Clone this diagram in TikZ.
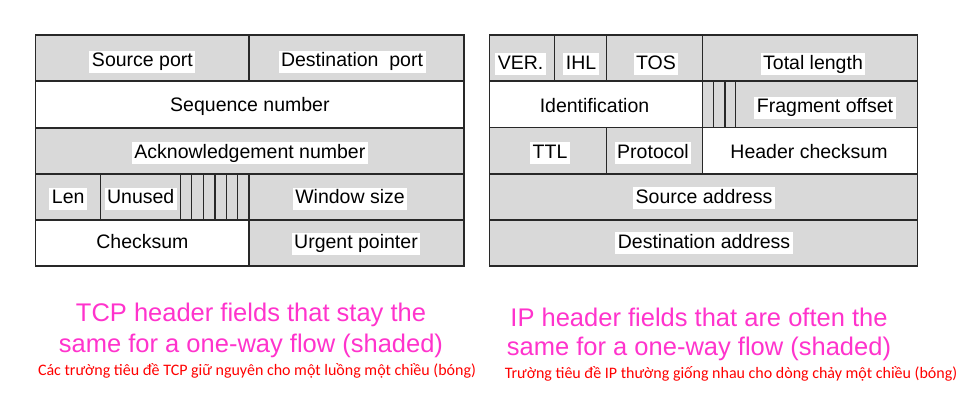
\documentclass[tikz,border=0pt]{standalone}
\usepackage{fontspec}
\setmainfont{Liberation Sans}
\newfontfamily\redfont{Carlito}
\definecolor{cellgray}{RGB}{217,217,217}
\definecolor{linegray}{RGB}{40,40,40}
\definecolor{pinkish}{RGB}{255,51,204}
\definecolor{redtext}{RGB}{255,0,0}
\tikzset{
  gcell/.style={fill=cellgray, draw=linegray, line width=1.1pt},
  wcell/.style={fill=white, draw=linegray, line width=1.1pt},
  flagline/.style={draw=linegray, line width=1.1pt},
  lbl/.style={fill=white, inner xsep=2.5pt, inner ysep=1.5pt, text height=14.5pt, text depth=4.5pt,
    font=\fontsize{19.5}{22}\selectfont},
  caption/.style={text=pinkish, anchor=base, inner sep=0pt, font=\fontsize{25.5}{30}\selectfont},
  subcap/.style={text=redtext, anchor=base, inner sep=0pt, font=\redfont\fontsize{16}{18}\selectfont}
}
\begin{document}
\begin{tikzpicture}[x=1pt,y=-1pt]
\useasboundingbox (0,0) rectangle (957,417);
% ---------------- TCP header ----------------
\path[gcell] (35.7,35) rectangle (249,81);
\path[gcell] (249,35) rectangle (464,81);
\path[wcell] (35.7,81) rectangle (464,128);
\path[gcell] (35.7,128) rectangle (464,174);
\path[gcell] (35.7,174) rectangle (100.7,220);
\path[gcell] (100.7,174) rectangle (180.7,220);
\path[gcell] (180.7,174) rectangle (249,220);
\foreach \x in {191.7,203.3,215,226.5,237.7} \draw[flagline] (\x,174) -- (\x,220);
\path[gcell] (249,174) rectangle (464,220);
\path[wcell] (35.7,220) rectangle (249,266);
\path[gcell] (249,220) rectangle (464,266);

\node[lbl] (srcport) at (142.4,62) {Source port};
\node[lbl] (dstport) at (352,62) {Destination\ \ port};
\node[lbl] (seqnum) at (249.9,106.7) {Sequence number};
\node[lbl] (acknum) at (249.9,153.3) {Acknowledgement number};
\node[lbl] (len) at (68.2,198.5) {Len};
\node[lbl] (unused) at (140.7,198.5) {Unused};
\node[lbl] (winsize) at (350,198.5) {Window size};
\node[lbl] (checksum) at (142.4,243.5) {Checksum};
\node[lbl] (urgptr) at (356,243.5) {Urgent pointer};

% ---------------- IP header ----------------
\path[gcell] (489.3,35) rectangle (554.3,81);
\path[gcell] (554.3,35) rectangle (606.7,81);
\path[gcell] (606.7,35) rectangle (702.7,81);
\path[gcell] (702.7,35) rectangle (917.7,81);
\path[wcell] (489.3,81) rectangle (702.7,127.3);
\path[gcell] (702.7,81) rectangle (735.7,127.3);
\foreach \x in {713.7,725} \draw[flagline] (\x,81) -- (\x,127.3);
\path[gcell] (735.7,81) rectangle (917.7,127.3);
\path[gcell] (489.3,127.3) rectangle (606.7,174);
\path[gcell] (606.7,127.3) rectangle (702.7,174);
\path[wcell] (702.7,127.3) rectangle (917.7,174);
\path[gcell] (489.3,174) rectangle (917.7,220);
\path[gcell] (489.3,220) rectangle (917.7,266);

\node[lbl] (ver) at (520.5,64.3) {VER.};
\node[lbl] (ihl) at (581,64.3) {IHL};
\node[lbl] (tos) at (656,64.3) {TOS};
\node[lbl] (totlen) at (813,64.3) {Total length};
\node[lbl] (ident) at (594.5,107.7) {Identification};
\node[lbl] (fragoff) at (825,107.7) {Fragment offset};
\node[lbl] (ttl) at (550,153.3) {TTL};
\node[lbl] (proto) at (653,153.3) {Protocol};
\node[lbl] (hdrchk) at (809,153.3) {Header checksum};
\node[lbl] (srcaddr) at (704,198.3) {Source address};
\node[lbl] (dstaddr) at (704,243.3) {Destination address};

% ---------------- captions ----------------
\node[caption] (tcpcap1) at (251,321) {TCP header fields that stay the};
\node[caption] (tcpcap2) at (251,352) {same for a one-way flow (shaded)};
\node[subcap] (tcpsub) at (257,375.5) {Các trường tiêu đề TCP giữ nguyên cho một luồng một chiều (bóng)};
\node[caption] (ipcap1) at (699,326) {IP header fields that are often the};
\node[caption] (ipcap2) at (699,355.5) {same for a one-way flow (shaded)};
\node[subcap] (ipsub) at (731,378.5) {Trường tiêu đề IP thường giống nhau cho dòng chảy một chiều (bóng)};
\end{tikzpicture}
\end{document}
